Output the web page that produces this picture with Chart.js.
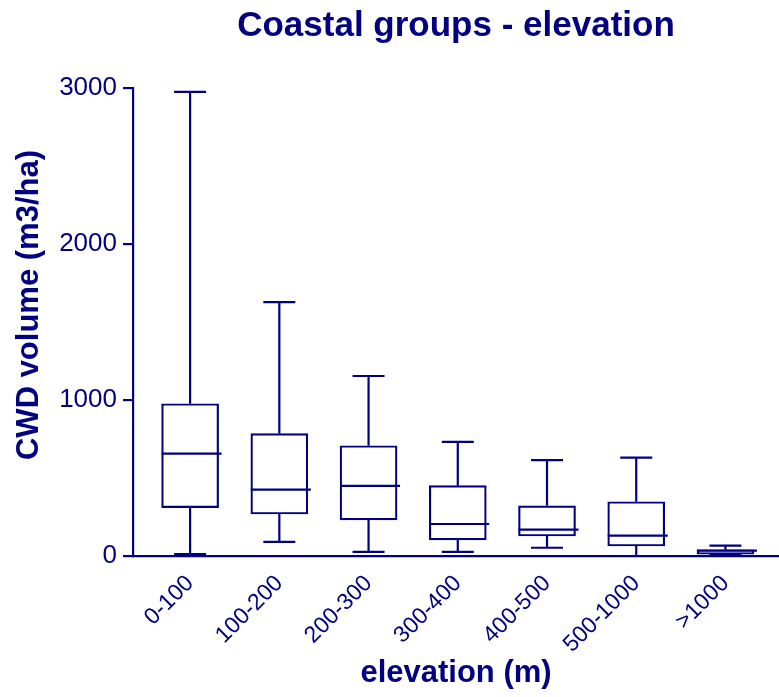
<!DOCTYPE html>
<html>
<head>
<meta charset="utf-8">
<script src="https://cdn.jsdelivr.net/npm/chart.js@4/dist/chart.umd.min.js"></script>
<style>
  html, body { margin: 0; padding: 0; background: #fff; }
  #wrap { width: 779px; height: 697px; position: relative; }
</style>
</head>
<body>
<div id="wrap"><canvas id="chart"></canvas></div>
<script>
// elevation classes and box plot values (CWD volume, m3/ha)
const categories = ["0-100", "100-200", "200-300", "300-400", "400-500", "500-1000", ">1000"];
const minValues = [12, 90, 26, 26, 53, 0, 5];
const q1Values = [310, 269, 231, 103, 128, 64, 12];
const medianValues = [656, 425, 449, 205, 169, 130, 35];
const q3Values = [976, 784, 707, 451, 322, 348, 40];
const maxValues = [2975, 1628, 1154, 731, 615, 630, 66];
const yTicks = [0, 1000, 2000, 3000];

const NAVY = "#000080";
const FONT = "'Liberation Sans', Arial, Helvetica, sans-serif";

// ひげ・キャップ・中央値を描くプラグイン
const whiskerPlugin = {
  id: "whiskers",
  afterDatasetsDraw(chart) {
    const { ctx, scales } = chart;
    const x = scales.x;
    const y = scales.y;
    const boxHalf = 28.5;
    const capHalf = 16;

    ctx.save();
    ctx.strokeStyle = NAVY;
    ctx.lineWidth = 2.2;
    categories.forEach((c, i) => {
      const cx = x.getPixelForValue(i);
      const yMin = y.getPixelForValue(minValues[i]);
      const yQ1 = y.getPixelForValue(q1Values[i]);
      const yMed = y.getPixelForValue(medianValues[i]);
      const yQ3 = y.getPixelForValue(q3Values[i]);
      const yMax = y.getPixelForValue(maxValues[i]);

      ctx.beginPath();
      // upper whisker
      ctx.moveTo(cx, yQ3);
      ctx.lineTo(cx, yMax);
      ctx.moveTo(cx - capHalf, yMax);
      ctx.lineTo(cx + capHalf, yMax);
      // lower whisker
      ctx.moveTo(cx, yQ1);
      ctx.lineTo(cx, yMin);
      ctx.moveTo(cx - capHalf, yMin);
      ctx.lineTo(cx + capHalf, yMin);
      // median
      ctx.moveTo(cx - boxHalf, yMed);
      ctx.lineTo(cx + boxHalf + 3, yMed);
      ctx.stroke();
    });
    ctx.restore();
  },
};

// y軸タイトル（チャートエリアより少し上寄り）
const yTitlePlugin = {
  id: "yTitle",
  afterDraw(chart) {
    const { ctx } = chart;
    ctx.save();
    ctx.translate(29, 305);
    ctx.rotate(-Math.PI / 2);
    ctx.fillStyle = NAVY;
    ctx.font = `bold 31px ${FONT}`;
    ctx.textAlign = "center";
    ctx.textBaseline = "middle";
    ctx.fillText("CWD volume (m3/ha)", 0, 0);
    ctx.restore();
  },
};

const ctx = document.getElementById("chart").getContext("2d");

const chart = new Chart(ctx, {
  type: "bar",
  data: {
    datasets: [
      {
        label: "IQR",
        data: categories.map((c, i) => ({ x: i, y: [q1Values[i], q3Values[i]] })),
        backgroundColor: "#ffffff",
        borderColor: NAVY,
        borderWidth: 2.2,
        borderSkipped: false,
        barThickness: 57,
      },
    ],
  },
  options: {
    responsive: true,
    maintainAspectRatio: false,
    animation: false,
    layout: { padding: 0 },
    scales: {
      x: {
        type: "linear",
        offset: false,
        min: -0.64,
        max: 6.6,
        afterBuildTicks: (scale) => {
          scale.ticks = categories.map((c, i) => ({ value: i }));
        },
        afterFit: (scale) => {
          scale.height = 141;
        },
        grid: { display: false },
        border: { display: true, color: NAVY, width: 2.2 },
        ticks: {
          autoSkip: false,
          minRotation: 45,
          maxRotation: 45,
          padding: 6,
          color: NAVY,
          font: { family: FONT, size: 23 },
          callback: (value) => categories[value],
        },
        title: {
          display: true,
          text: "elevation (m)",
          color: NAVY,
          font: { family: FONT, size: 31, weight: "bold" },
          padding: { top: 0, bottom: 5 },
        },
      },
      y: {
        min: 0,
        max: 3000,
        afterBuildTicks: (scale) => {
          scale.ticks = yTicks.map((v) => ({ value: v }));
        },
        afterFit: (scale) => {
          scale.width = 133;
        },
        grid: {
          display: true,
          drawOnChartArea: false,
          drawTicks: true,
          tickLength: 10,
          color: NAVY,
          lineWidth: 2.2,
        },
        border: { display: true, color: NAVY, width: 2.2 },
        ticks: {
          padding: 6,
          color: NAVY,
          font: { family: FONT, size: 26 },
          callback: (value) => String(value),
        },
      },
    },
    plugins: {
      legend: { display: false },
      tooltip: { enabled: false },
      title: {
        display: true,
        fullSize: false,
        text: "Coastal groups - elevation",
        color: NAVY,
        font: { family: FONT, size: 35, weight: "bold" },
        padding: { top: 5, bottom: 41 },
      },
    },
  },
  plugins: [whiskerPlugin, yTitlePlugin],
});
</script>
</body>
</html>
